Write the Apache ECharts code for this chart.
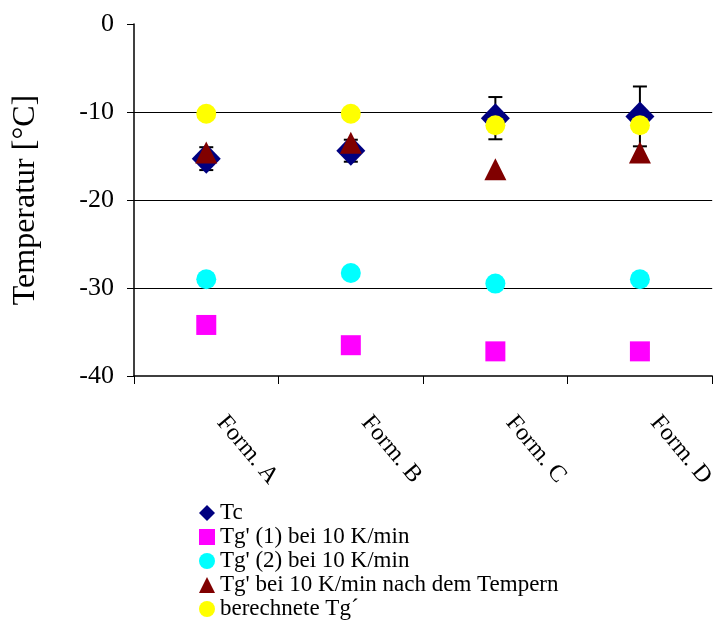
<!DOCTYPE html>
<html>
<head>
<meta charset="utf-8">
<script src="https://cdn.jsdelivr.net/npm/echarts@6/dist/echarts.min.js"></script>
<style>
  html, body { margin: 0; padding: 0; background: #fff; }
  #chart { width: 718px; height: 622px; }
</style>
</head>
<body>
<div id="chart"></div>
<script>
// Formulations on the category axis
const categories = ['Form. A', 'Form. B', 'Form. C', 'Form. D'];

// Temperatures in °C
const tcValues = [-15.3, -14.4, -10.7, -10.5];
const tcErrors = [1.3, 1.25, 2.4, 3.4];
const tg1Values = [-34.2, -36.5, -37.2, -37.2];
const tg2Values = [-29.0, -28.3, -29.5, -29.0];
const tgTemperedValues = [-14.6, -13.5, -16.5, -14.6];
const tgCalcValues = [-10.2, -10.2, -11.5, -11.5];

// Y axis range and step
const yMin = -40, yMax = 0, yStep = 10;

const seriesNames = [
  'Tc',
  "Tg' (1) bei 10 K/min",
  "Tg' (2) bei 10 K/min",
  "Tg' bei 10 K/min nach dem Tempern",
  'berechnete Tg\u00b4'
];

const FONT = 'Liberation Serif';

const errorData = tcValues.map((v, i) => [i, v - tcErrors[i], v + tcErrors[i]]);

const chart = echarts.init(document.getElementById('chart'), null, { renderer: 'canvas' });

const solid = (color) => ({ color: color, opacity: 1 });

chart.setOption({
  backgroundColor: '#ffffff',
  animation: false,
  textStyle: { fontFamily: FONT, color: '#000' },
  grid: { left: 134, right: 5, top: 24, bottom: 246, containLabel: false },
  xAxis: {
    type: 'category',
    data: categories,
    boundaryGap: true,
    axisLine: { show: true, onZero: false, lineStyle: { color: '#000', width: 1.5 } },
    axisTick: { show: true, alignWithLabel: false, length: 8, lineStyle: { color: '#000', width: 1 } },
    axisLabel: {
      rotate: -50,
      margin: 25,
      padding: [0, 0, 0, 23],
      fontFamily: FONT,
      fontSize: 24,
      color: '#000'
    },
    splitLine: { show: false }
  },
  yAxis: {
    type: 'value',
    min: yMin,
    max: yMax,
    interval: yStep,
    name: 'Temperatur [°C]',
    nameLocation: 'middle',
    nameGap: 92,
    nameRotate: 90,
    nameTextStyle: { fontFamily: FONT, fontSize: 32, color: '#000' },
    axisLine: { show: true, lineStyle: { color: '#000', width: 1.5 } },
    axisTick: { show: true, inside: false, length: 7, lineStyle: { color: '#000', width: 1 } },
    axisLabel: { margin: 20, fontFamily: FONT, fontSize: 26, color: '#000' },
    splitLine: { show: true, showMinLine: false, showMaxLine: false, lineStyle: { color: '#000', width: 1.2 } }
  },
  legend: {
    orient: 'vertical',
    left: 199,
    top: 501,
    itemWidth: 16,
    itemHeight: 16,
    itemGap: 0,
    padding: 0,
    textStyle: { fontFamily: FONT, fontSize: 23, color: '#000', lineHeight: 24 },
    data: [
      { name: seriesNames[0], icon: 'diamond' },
      { name: seriesNames[1], icon: 'rect' },
      { name: seriesNames[2], icon: 'circle' },
      { name: seriesNames[3], icon: 'triangle' },
      { name: seriesNames[4], icon: 'circle' }
    ]
  },
  series: [
    {
      name: seriesNames[0],
      type: 'scatter',
      data: tcValues,
      symbol: 'diamond',
      symbolSize: [29, 30],
      itemStyle: solid('#000080')
    },
    {
      name: 'Tc Fehler',
      type: 'custom',
      data: errorData,
      renderItem: function (params, api) {
        const x = api.value(0);
        const lo = api.coord([x, api.value(1)]);
        const hi = api.coord([x, api.value(2)]);
        const cap = 7;
        const style = { stroke: '#000', lineWidth: 2 };
        return {
          type: 'group',
          children: [
            { type: 'line', shape: { x1: lo[0], y1: lo[1], x2: hi[0], y2: hi[1] }, style: style },
            { type: 'line', shape: { x1: lo[0] - cap, y1: lo[1], x2: lo[0] + cap, y2: lo[1] }, style: style },
            { type: 'line', shape: { x1: hi[0] - cap, y1: hi[1], x2: hi[0] + cap, y2: hi[1] }, style: style }
          ]
        };
      }
    },
    {
      name: seriesNames[1],
      type: 'scatter',
      data: tg1Values,
      symbol: 'rect',
      symbolSize: 20,
      itemStyle: solid('#ff00ff')
    },
    {
      name: seriesNames[2],
      type: 'scatter',
      data: tg2Values,
      symbol: 'circle',
      symbolSize: 20,
      itemStyle: solid('#00ffff')
    },
    {
      name: seriesNames[3],
      type: 'scatter',
      data: tgTemperedValues,
      symbol: 'triangle',
      symbolSize: [22, 22],
      itemStyle: solid('#800000')
    },
    {
      name: seriesNames[4],
      type: 'scatter',
      data: tgCalcValues,
      symbol: 'circle',
      symbolSize: 20,
      itemStyle: solid('#ffff00')
    }
  ]
});
</script>
</body>
</html>
